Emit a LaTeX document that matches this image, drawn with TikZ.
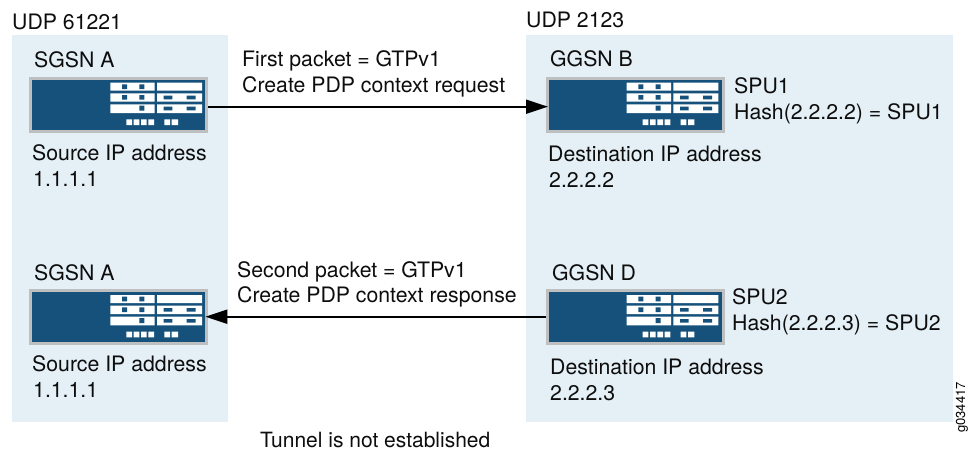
\documentclass[tikz,border=0pt]{standalone}
\usepackage{fontspec}
\setmainfont{TeX Gyre Heros}
\definecolor{panelblue}{HTML}{E4EFF6}
\definecolor{routerblue}{HTML}{15517B}
\definecolor{routergray}{HTML}{BDBFC1}
\usetikzlibrary{arrows.meta}
\tikzset{
  x=1pt,y=-1pt,
  panel/.style={fill=panelblue,draw=none},
  routerbox/.style={draw=routergray,line width=3pt,fill=routerblue,inner sep=0pt,outer sep=0pt,minimum width=176pt,minimum height=53pt,anchor=north west},
  label/.style={font=\fontsize{21.25}{21.25}\selectfont,anchor=base west,inner sep=0pt,text=black!95},
  conn/.style={line width=2pt,draw=black,shorten <=1.5pt,-{Triangle[length=22pt,width=14pt]}},
}
\newcommand{\router}[3]{%
  \node[routerbox] (#1) at (#2+1.5,#3+1.5) {};
  \begin{scope}[shift={(#2,#3)}]
    \fill[white] (81,6) rectangle (125.3,14) (127.7,6) rectangle (172.7,14)
      (81,16.7) rectangle (125.3,25) (127.7,16.7) rectangle (172.7,25)
      (81,27.7) rectangle (125.3,36.3) (127.7,27.7) rectangle (172.7,36.3);
    \fill[routerblue] (92.7,7.7) rectangle (97.7,12.3) (110,7.7) rectangle (115,12.3)
      (92.7,18.3) rectangle (97.7,23) (110,18.3) rectangle (115,23)
      (110,29) rectangle (115,34)
      (134.3,19) rectangle (143,22.7) (157.3,19) rectangle (166.3,22.7)
      (134.3,30) rectangle (143,33.7) (157.3,30) rectangle (166.3,33.7);
    \fill[white] (97,42.7) rectangle (102.7,48.3) (104.3,42.7) rectangle (110,48.3)
      (111.7,42.7) rectangle (117.3,48.3) (119,42.7) rectangle (124.7,48.3)
      (135,42.7) rectangle (140.7,48.3) (142.3,42.7) rectangle (148.7,48.3);
  \end{scope}}
\begin{document}
\begin{tikzpicture}
\useasboundingbox (0,0) rectangle (970,451);
\fill[panel] (12,35) rectangle (228,421.5);
\fill[panel] (526,35) rectangle (953,421.5);
\router{sgsnAtop}{29.3}{76.7}
\router{ggsnB}{545.7}{76.7}
\router{sgsnAbot}{29.3}{289}
\router{ggsnD}{545.7}{289}
\coordinate (c1a) at ([yshift=-2pt]sgsnAtop.east);
\coordinate (c1b) at ([yshift=-2pt]ggsnB.west);
\coordinate (c2a) at ([yshift=0.3pt]ggsnD.west);
\coordinate (c2b) at ([yshift=0.3pt]sgsnAbot.east);
\draw[conn,shorten >=-0.8pt] (c1a) -- (c1b);
\draw[conn,shorten >=-1.5pt] (c2a) -- (c2b);
\node[label] (t1) at (12,29) {UDP 61221};
\node[label] (t2) at (526,27) {UDP 2123};
\node[label] (t3) at (34,67.5) {SGSN A};
\node[label] (t4) at (32,160) {Source IP address};
\node[label] (t5) at (33,186) {1.1.1.1};
\node[label] (t6) at (242,66.7) {First packet = GTPv1};
\node[label] (t7) at (242,92) {Create PDP context request};
\node[label] (t8) at (550,66) {GGSN B};
\node[label] (t9) at (734,93) {SPU1};
\node[label] (t10) at (734,119) {Hash(2.2.2.2) = SPU1};
\node[label] (t11) at (548,161) {Destination IP address};
\node[label] (t12) at (549,187) {2.2.2.2};
\node[label] (t13) at (34,280) {SGSN A};
\node[label] (t14) at (32,371) {Source IP address};
\node[label] (t15) at (33,397) {1.1.1.1};
\node[label] (t16) at (237,277) {Second packet = GTPv1};
\node[label] (t17) at (237,302) {Create PDP context response};
\node[label] (t18) at (552,280) {GGSN D};
\node[label] (t19) at (732,304) {SPU2};
\node[label] (t20) at (732,330) {Hash(2.2.2.3) = SPU2};
\node[label] (t21) at (550,374) {Destination IP address};
\node[label] (t22) at (550,400) {2.2.2.3};
\node[label,font=\fontsize{21}{21}\selectfont] (t23) at (260,447.5) {Tunnel is not established};
\node[font=\fontsize{13}{13}\selectfont,anchor=base west,inner sep=0pt,rotate=90] (gid) at (965,433) {g034417};
\end{tikzpicture}
\end{document}
